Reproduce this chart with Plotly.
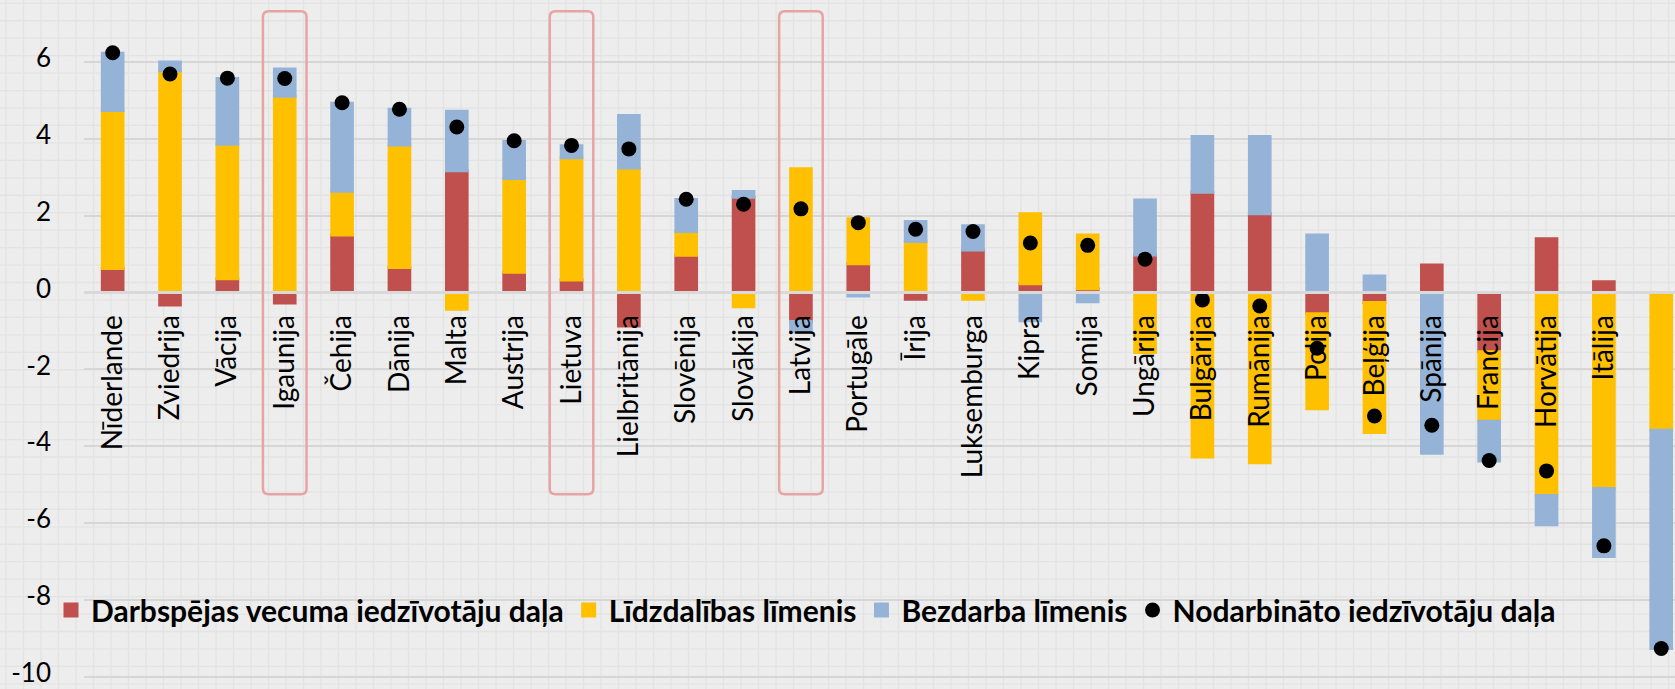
import plotly.graph_objects as go

countries = ["Nīderlande", "Zviedrija", "Vācija", "Igaunija", "Čehija", "Dānija", "Malta",
             "Austrija", "Lietuva", "Lielbritānija", "Slovēnija", "Slovākija", "Latvija",
             "Portugāle", "Īrija", "Luksemburga", "Kipra", "Somija", "Ungārija", "Bulgārija",
             "Rumānija", "Polija", "Beļģija", "Spānija", "Francija", "Horvātija", "Itālija",
             "Grieķija"]

darbspejas = [0.63, -0.32, 0.36, -0.27, 1.50, 0.65, 3.17, 0.53, 0.33, -0.87, 0.97, 2.48, -0.75,
              0.75, -0.17, 1.11, 0.23, 0.10, 0.98, 2.61, 2.05, -0.55, -0.26, 0.72, -1.54, 1.40,
              0.28, 0.0]
lidzdalibas = [4.11, 5.77, 3.50, 5.11, 1.14, 3.19, -0.43, 2.44, 3.18, 3.24, 0.62, -0.37, 3.22,
               1.17, 1.33, -0.17, 1.82, 1.40, -1.56, -4.28, -4.43, -2.47, -3.38, -0.03, -1.81,
               -5.28, -5.10, -3.58]
bezdarba = [1.49, 0.23, 1.71, 0.71, 2.29, 0.93, 1.55, 0.96, 0.31, 1.37, 0.83, 0.15, -0.27,
            -0.09, 0.52, 0.63, -0.73, -0.24, 1.43, 1.45, 2.01, 1.50, 0.43, -4.15, -1.03, -0.76,
            -1.77, -5.68]
nodarbinato = [6.24, 5.69, 5.58, 5.57, 4.94, 4.77, 4.31, 3.95, 3.83, 3.74, 2.43, 2.30, 2.18,
               1.82, 1.65, 1.59, 1.29, 1.23, 0.87, -0.19, -0.35, -1.45, -3.21, -3.45, -4.37,
               -4.64, -6.59, -9.26]

series_names = ["Darbspējas vecuma iedzīvotāju daļa", "Līdzdalības līmenis",
                "Bezdarba līmenis", "Nodarbināto iedzīvotāju daļa"]
highlighted = ["Igaunija", "Lietuva", "Latvija"]
y_ticks = [-10, -8, -6, -4, -2, 0, 2, 4, 6]
y_tick_text = ["-10", "-8", "-6", "-4", "-2", "0", "2", "4", "6"]

W, H = 1675, 689
ML = 84
FONT = "Lato"
idx = list(range(len(countries)))

fig = go.Figure()
for vals, col, name in [(darbspejas, "#C0504D", series_names[0]),
                        (lidzdalibas, "#FFC000", series_names[1]),
                        (bezdarba, "#95B3D7", series_names[2])]:
    fig.add_trace(go.Bar(x=idx, y=vals, name=name, width=0.36,
                         marker=dict(color=col, line=dict(color=col, width=3))))
fig.add_trace(go.Scatter(x=idx, y=nodarbinato, name=series_names[3], mode="markers",
                         marker=dict(color="black", size=15), cliponaxis=False))

ymin, ymax = -10.315, 7.614
shapes = []
# background graph-paper texture
pts = []
px = 6.0
while px < W:
    fx = (px - ML) / (W - ML)
    pts.append(f"M{fx:.5f},0 L{fx:.5f},1")
    px += 17.5
py = 3.3
while py < H:
    fy = (H - py) / H
    pts.append(f"M{(0 - ML) / (W - ML):.5f},{fy:.5f} L1,{fy:.5f}")
    py += 17.45
shapes.append(dict(type="path", xref="paper", yref="paper", path=" ".join(pts),
                   line=dict(color="#e3e3e3", width=1.3), layer="below"))
# zero separator above bars
shapes.append(dict(type="line", xref="paper", yref="y", x0=0, x1=1, y0=0, y1=0,
                   line=dict(color="#d9d9d9", width=3), layer="above"))
# highlight boxes
rx, ry = 0.1, 0.15
for c in highlighted:
    i = countries.index(c)
    x0, x1 = i - 0.38, i + 0.38
    y0, y1 = -5.25, 7.32
    path = (f"M{x0+rx},{y1} L{x1-rx},{y1} Q{x1},{y1} {x1},{y1-ry} L{x1},{y0+ry} "
            f"Q{x1},{y0} {x1-rx},{y0} L{x0+rx},{y0} Q{x0},{y0} {x0},{y0+ry} "
            f"L{x0},{y1-ry} Q{x0},{y1} {x0+rx},{y1} Z")
    shapes.append(dict(type="path", xref="x", yref="y", path=path,
                       line=dict(color="#E8A3A3", width=2.5), layer="above"))

fig.update_layout(
    width=W, height=H,
    margin=dict(l=ML, r=0, t=0, b=0, autoexpand=False),
    paper_bgcolor="#ededed", plot_bgcolor="rgba(0,0,0,0)",
    barmode="relative",
    font=dict(family=FONT, color="black"),
    shapes=shapes,
    showlegend=True,
    legend=dict(orientation="h", x=(806 - ML) / (W - ML), xanchor="center",
                y=(H - 610) / H, yanchor="middle",
                font=dict(family=FONT, size=30, color="black", weight="bold"),
                bgcolor="rgba(0,0,0,0)", itemsizing="trace", traceorder="normal"),
    xaxis=dict(range=[-0.5, 27.24], tickmode="array", tickvals=idx, ticktext=countries,
               tickangle=-90, showgrid=False, zeroline=False, showline=False,
               anchor="free", position=(0 - ymin) / (ymax - ymin),
               ticks="", ticklabelstandoff=16,
               tickfont=dict(family=FONT, size=28, color="black")),
    yaxis=dict(range=[ymin, ymax], tickmode="array", tickvals=y_ticks, ticktext=y_tick_text,
               showgrid=True, gridcolor="#d6d6d6", gridwidth=2, zeroline=False,
               showline=False, ticks="", ticklabelstandoff=32, ticklabeloverflow="allow",
               ticklabelshift=-4,
               tickfont=dict(family=FONT, size=26, color="black")),
)

fig.write_html("out.html", config={"displayModeBar": False},
               post_script="document.body.style.margin='0px';document.body.style.background='#ededed';")
